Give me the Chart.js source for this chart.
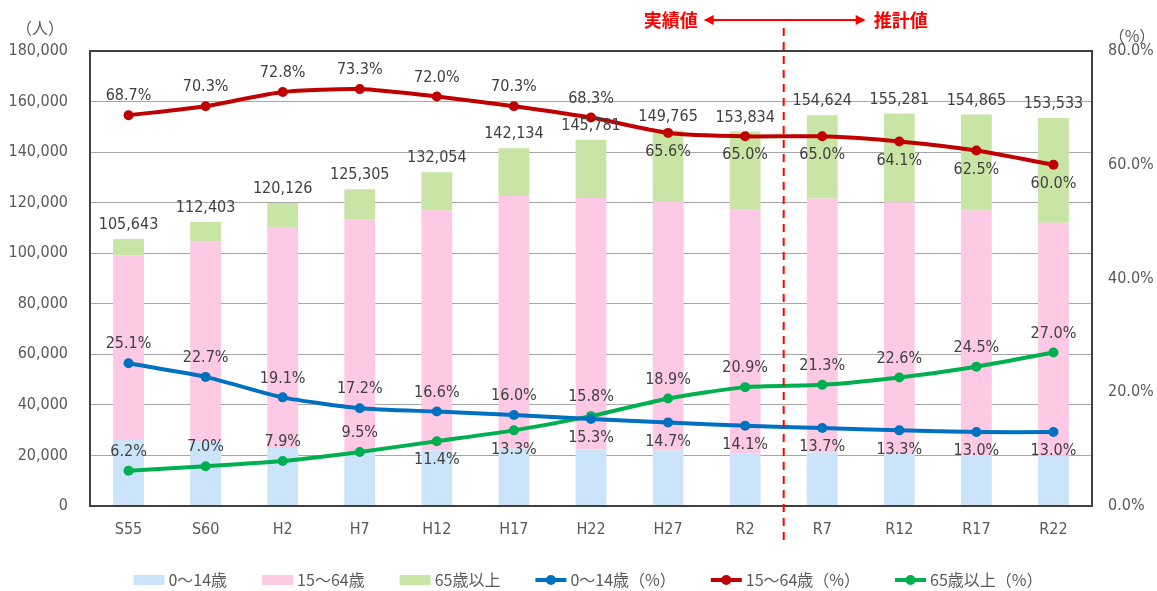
<!DOCTYPE html>
<html>
<head>
<meta charset="utf-8">
<script src="https://cdn.jsdelivr.net/npm/chart.js@4.4.1/dist/chart.umd.min.js"></script>
<style>
  html, body { margin: 0; padding: 0; background: #fff; }
  #wrap { width: 1157px; height: 591px; position: relative; }
</style>
</head>
<body>
<div id="wrap"><canvas id="chart"></canvas></div>
<script>
// data
const categories = ['S55', 'S60', 'H2', 'H7', 'H12', 'H17', 'H22', 'H27', 'R2', 'R7', 'R12', 'R17', 'R22'];
const pop0to14 = [26516, 25515, 22944, 21552, 21921, 22741, 22304, 22016, 20896, 21183, 20652, 20132, 19959];
const pop15to64 = [72577, 79019, 87452, 91849, 95079, 99920, 99568, 98246, 96330, 100506, 99535, 96791, 92120];
const pop65plus = [6550, 7868, 9490, 11904, 15054, 18904, 23033, 28306, 30974, 32935, 35094, 37942, 41454];
const totals = [105643, 112403, 120126, 125305, 132054, 142134, 145781, 149765, 153834, 154624, 155281, 154865, 153533];
const pct0to14 = [25.1, 22.7, 19.1, 17.2, 16.6, 16.0, 15.3, 14.7, 14.1, 13.7, 13.3, 13.0, 13.0];
const pct15to64 = [68.7, 70.3, 72.8, 73.3, 72.0, 70.3, 68.3, 65.6, 65.0, 65.0, 64.1, 62.5, 60.0];
const pct65plus = [6.2, 7.0, 7.9, 9.5, 11.4, 13.3, 15.8, 18.9, 20.9, 21.3, 22.6, 24.5, 27.0];
const leftTicks = [0, 20000, 40000, 60000, 80000, 100000, 120000, 140000, 160000, 180000];
const rightTicks = [0, 20, 40, 60, 80];

// 1 = label above the point, -1 = below
const side0to14 = [1, 1, 1, 1, 1, 1, -1, -1, -1, -1, -1, -1, -1];
const side15to64 = [1, 1, 1, 1, 1, 1, 1, -1, -1, -1, -1, -1, -1];
const side65plus = [1, 1, 1, 1, -1, -1, 1, 1, 1, 1, 1, 1, 1];

const FONT = "'DejaVu Sans Condensed', 'Liberation Sans Narrow', 'Noto Sans CJK JP', sans-serif";
const JP_FONT = "'Noto Sans CJK JP', sans-serif";
const TEXT = '#595959';
const LABEL = '#404040';

const C = {
    bar0: '#cce4fa', bar1: '#fdc9e4', bar2: '#c9e5a6',
    line0: '#0070c0', line1: '#c00000', line2: '#00b050'
};

const legendItems = [
    { text: '0～14歳', color: C.bar0, type: 'box' },
    { text: '15～64歳', color: C.bar1, type: 'box' },
    { text: '65歳以上', color: C.bar2, type: 'box' },
    { text: '0～14歳（%）', color: C.line0, type: 'line' },
    { text: '15～64歳（%）', color: C.line1, type: 'line' },
    { text: '65歳以上（%）', color: C.line2, type: 'line' }
];

const extras = {
    id: 'extras',
    afterDatasetsDraw(chart) {
        const ctx = chart.ctx;
        const area = chart.chartArea;
        const x = chart.scales.x;
        ctx.save();

        // plot border
        ctx.strokeStyle = '#404040';
        ctx.lineWidth = 2;
        ctx.strokeRect(area.left, area.top, area.right - area.left, area.bottom - area.top);

        // totals above the stacked bars
        ctx.font = '16px ' + FONT;
        ctx.fillStyle = LABEL;
        ctx.textAlign = 'center';
        ctx.textBaseline = 'middle';
        const topMeta = chart.getDatasetMeta(2);
        topMeta.data.forEach((bar, i) => {
            ctx.fillText(totals[i].toLocaleString('en-US'), bar.x, bar.y - 14);
        });

        // percentage labels
        const sides = [side0to14, side15to64, side65plus];
        [3, 4, 5].forEach((di, k) => {
            const ds = chart.data.datasets[di];
            chart.getDatasetMeta(di).data.forEach((pt, i) => {
                ctx.fillText(ds.data[i].toFixed(1) + '%', pt.x, pt.y - 19 * sides[k][i]);
            });
        });

        // boundary between actual and estimated values
        const bx = (x.getPixelForValue(8) + x.getPixelForValue(9)) / 2;
        ctx.strokeStyle = '#ff0000';
        ctx.lineWidth = 2;
        ctx.setLineDash([8, 6]);
        ctx.beginPath();
        ctx.moveTo(bx, 28);
        ctx.lineTo(bx, 546);
        ctx.stroke();
        ctx.setLineDash([]);

        // arrow + captions
        const ay = 20;
        const a1 = bx - 80, a2 = bx + 82;
        ctx.fillStyle = '#ff0000';
        ctx.beginPath();
        ctx.moveTo(a1 + 8, ay);
        ctx.lineTo(a2 - 8, ay);
        ctx.stroke();
        ctx.beginPath();
        ctx.moveTo(a1, ay); ctx.lineTo(a1 + 10, ay - 5); ctx.lineTo(a1 + 10, ay + 5); ctx.closePath();
        ctx.fill();
        ctx.beginPath();
        ctx.moveTo(a2, ay); ctx.lineTo(a2 - 10, ay - 5); ctx.lineTo(a2 - 10, ay + 5); ctx.closePath();
        ctx.fill();
        ctx.font = 'bold 18px ' + JP_FONT;
        ctx.textAlign = 'right';
        ctx.fillText('実績値', a1 - 6, ay);
        ctx.textAlign = 'left';
        ctx.fillText('推計値', a2 + 8, ay);

        // axis unit captions
        ctx.fillStyle = TEXT;
        ctx.font = '16px ' + JP_FONT;
        ctx.textAlign = 'center';
        ctx.fillText('（人）', 40, 28);
        ctx.fillText('（%）', 1132, 36);

        // legend
        ctx.font = '16px ' + JP_FONT;
        ctx.textAlign = 'left';
        const symW = 31, gapIn = 4, gapOut = 35;
        let total = 0;
        legendItems.forEach(it => { it.w = symW + gapIn + ctx.measureText(it.text).width; total += it.w; });
        total += gapOut * (legendItems.length - 1);
        let lx = 588 - total / 2;
        const ly = 580;
        legendItems.forEach(it => {
            if (it.type === 'box') {
                ctx.fillStyle = it.color;
                ctx.fillRect(lx, ly - 5, symW, 10);
            } else {
                ctx.strokeStyle = it.color;
                ctx.lineWidth = 4;
                ctx.beginPath();
                ctx.moveTo(lx, ly);
                ctx.lineTo(lx + symW, ly);
                ctx.stroke();
                ctx.fillStyle = it.color;
                ctx.beginPath();
                ctx.arc(lx + symW / 2, ly, 5, 0, Math.PI * 2);
                ctx.fill();
            }
            ctx.fillStyle = TEXT;
            ctx.fillText(it.text, lx + symW + gapIn, ly);
            lx += it.w + gapOut;
        });

        ctx.restore();
    }
};

const lineDs = (label, data, color) => ({
    type: 'line',
    label: label,
    data: data,
    yAxisID: 'y1',
    borderColor: color,
    backgroundColor: color,
    borderWidth: 4,
    pointRadius: 5,
    pointBackgroundColor: color,
    pointBorderWidth: 0,
    tension: 0.2,
    order: 0
});

const barDs = (label, data, color) => ({
    type: 'bar',
    label: label,
    data: data,
    yAxisID: 'y',
    backgroundColor: color,
    borderWidth: 0,
    barPercentage: 0.4,
    categoryPercentage: 1.0,
    order: 1
});

new Chart(document.getElementById('chart').getContext('2d'), {
    data: {
        labels: categories,
        datasets: [
            barDs('0～14歳', pop0to14, C.bar0),
            barDs('15～64歳', pop15to64, C.bar1),
            barDs('65歳以上', pop65plus, C.bar2),
            lineDs('0～14歳（%）', pct0to14, C.line0),
            lineDs('15～64歳（%）', pct15to64, C.line1),
            lineDs('65歳以上（%）', pct65plus, C.line2)
        ]
    },
    options: {
        responsive: true,
        maintainAspectRatio: false,
        animation: false,
        layout: { padding: { top: 51, left: 0, right: 0, bottom: 0 } },
        plugins: { legend: { display: false }, tooltip: { enabled: false } },
        scales: {
            x: {
                stacked: true,
                grid: { display: false, drawTicks: false },
                border: { display: false },
                ticks: { color: TEXT, font: { family: FONT, size: 16 }, padding: 14 },
                afterFit(s) { s.height = 85; }
            },
            y: {
                stacked: true,
                position: 'left',
                min: 0,
                max: 180000,
                afterBuildTicks(s) { s.ticks = leftTicks.map(v => ({ value: v })); },
                grid: { color: '#a6a6a6', lineWidth: 1, drawTicks: false },
                border: { display: false },
                ticks: {
                    color: TEXT, font: { family: FONT, size: 16 }, padding: 22,
                    callback: v => v.toLocaleString('en-US')
                },
                afterFit(s) { s.width = 90; }
            },
            y1: {
                position: 'right',
                min: 0,
                max: 80,
                afterBuildTicks(s) { s.ticks = rightTicks.map(v => ({ value: v })); },
                grid: { display: false, drawTicks: false },
                border: { display: false },
                ticks: {
                    color: TEXT, font: { family: FONT, size: 16 }, padding: 16,
                    callback: v => v.toFixed(1) + '%'
                },
                afterFit(s) { s.width = 65; }
            }
        }
    },
    plugins: [extras]
});
</script>
</body>
</html>
